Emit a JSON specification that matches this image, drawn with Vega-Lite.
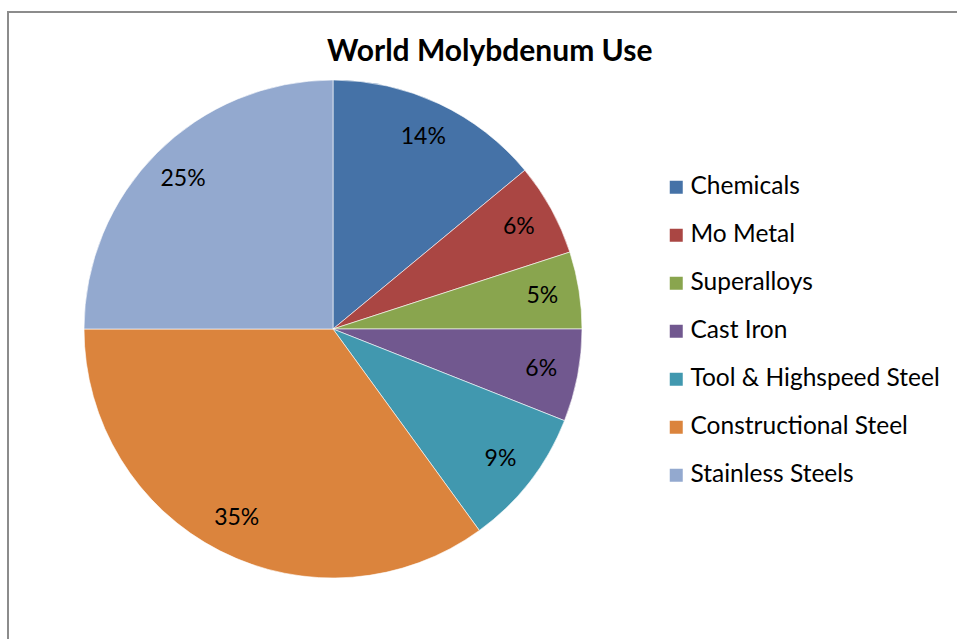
{
  "$schema": "https://vega.github.io/schema/vega-lite/v6.json",
  "autosize": {"type": "none"},
  "width": 952,
  "height": 630,
  "padding": {"left": 8, "top": 12, "right": -3, "bottom": -3},
  "background": "white",
  "view": {"stroke": "#8c8c8c", "strokeWidth": 2, "fill": "white"},
  "config": {
    "font": "Lato"
  },
  "title": {
    "text": "World Molybdenum Use",
    "font": "Lato",
    "fontSize": 30,
    "fontWeight": "bold",
    "color": "black",
    "orient": "top",
    "anchor": "start",
    "frame": "group",
    "offset": -55,
    "dx": 319
  },
  "data": {
    "values": [
      {"idx": 1, "use": "Chemicals", "share": 14, "label": "14%"},
      {"idx": 2, "use": "Mo Metal", "share": 6, "label": "6%"},
      {"idx": 3, "use": "Superalloys", "share": 5, "label": "5%"},
      {"idx": 4, "use": "Cast Iron", "share": 6, "label": "6%"},
      {"idx": 5, "use": "Tool & Highspeed Steel", "share": 9, "label": "9%"},
      {"idx": 6, "use": "Constructional Steel", "share": 35, "label": "35%"},
      {"idx": 7, "use": "Stainless Steels", "share": 25, "label": "25%"}
    ]
  },
  "encoding": {
    "theta": {"field": "share", "type": "quantitative", "stack": true},
    "order": {"field": "idx", "type": "quantitative"},
    "color": {
      "field": "use",
      "type": "nominal",
      "scale": {
        "domain": ["Chemicals", "Mo Metal", "Superalloys", "Cast Iron", "Tool & Highspeed Steel", "Constructional Steel", "Stainless Steels"],
        "range": ["#4572a7", "#aa4643", "#89a54e", "#71588f", "#4198af", "#db843d", "#93a9cf"]
      },
      "legend": {
        "title": null,
        "orient": "none",
        "legendX": 656,
        "legendY": 163,
        "symbolType": "square",
        "symbolSize": 169,
        "symbolStrokeWidth": 0,
        "labelFont": "Lato",
        "labelFontSize": 24.5,
        "labelColor": "black",
        "labelOffset": 2,
        "rowPadding": 23,
        "labelLimit": 400
      }
    }
  },
  "layer": [
    {
      "mark": {"type": "arc", "outerRadius": 249, "x": 325, "y": 317, "stroke": "white", "strokeWidth": 0.6}
    },
    {
      "mark": {"type": "text", "radius": 212, "x": 325, "y": 317, "font": "Lato", "fontSize": 23, "color": "black"},
      "encoding": {
        "text": {"field": "label", "type": "nominal"},
        "color": {"value": "black"}
      }
    }
  ]
}
